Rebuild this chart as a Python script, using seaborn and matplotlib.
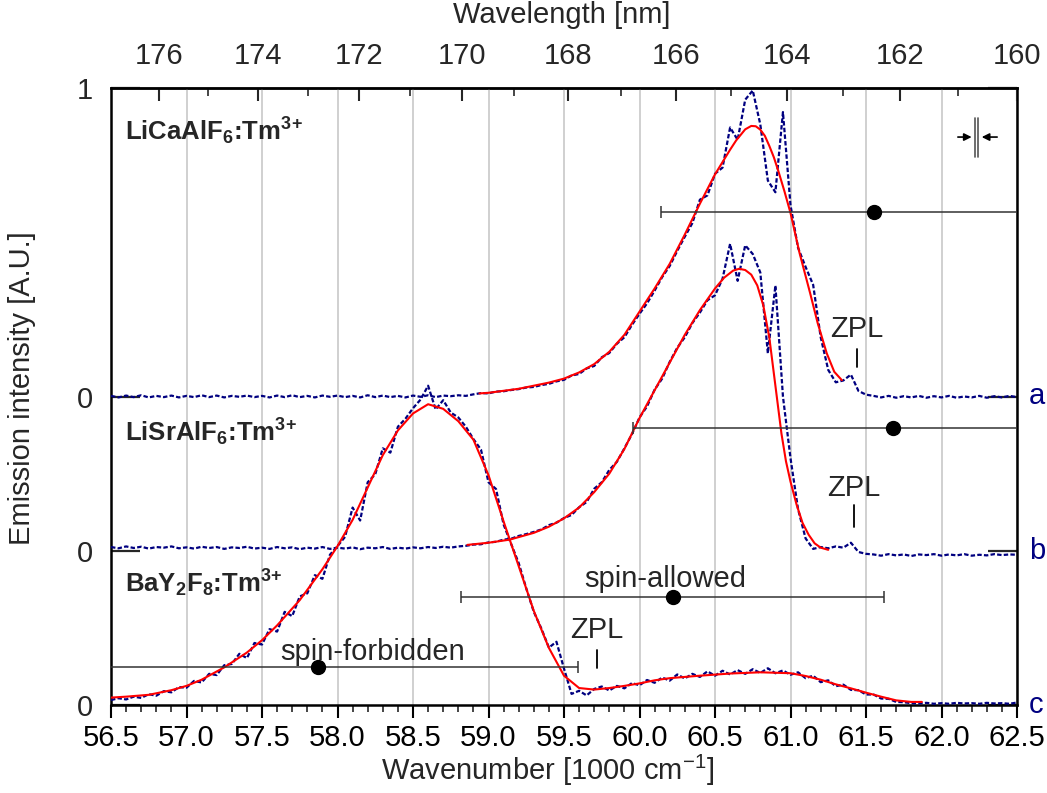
import numpy as np
import matplotlib
matplotlib.use("Agg")
import matplotlib.pyplot as plt
from matplotlib.ticker import MultipleLocator, FixedLocator
import seaborn as sns

# ---------------- data ----------------
# wavenumber grid of the measured spectra [1000 cm^-1]
wn = np.linspace(56.5, 62.5, 121)

# measured (blue, dashed) spectra, each normalised to its own baseline
meas_a = [0.002, -0.003, 0.003, -0.002, 0.004, -0.003, 0.002, -0.002, 0.003, -0.003,
          0.002, -0.002, 0.004, -0.002, 0.003, -0.003, 0.002, -0.001, 0.003, -0.002,
          0.002, -0.003, 0.003, -0.002, 0.004, -0.002, 0.002, -0.003, 0.003, -0.001,
          0.003, -0.002, 0.002, -0.003, 0.004, -0.002, 0.003, -0.002, 0.002, -0.003,
          0.003, -0.001, 0.004, -0.002, 0.003, 0.001, 0.004, 0.002, 0.007, 0.011,
          0.010, 0.016, 0.017, 0.021, 0.024, 0.029, 0.031, 0.037, 0.041, 0.049,
          0.054, 0.068, 0.073, 0.091, 0.099, 0.127, 0.141, 0.171, 0.192, 0.232,
          0.268, 0.302, 0.343, 0.387, 0.423, 0.472, 0.518, 0.562, 0.638, 0.652,
          0.722, 0.742, 0.872, 0.832, 0.962, 0.992, 0.882, 0.700, 0.662, 0.922,
          0.620, 0.482, 0.420, 0.362, 0.192, 0.086, 0.046, 0.052, 0.071, 0.018,
          0.006, 0.002, -0.003, 0.002, -0.004, 0.001, -0.003, 0.002, -0.004, 0.001,
          -0.003, 0.002, -0.004, 0.000, -0.003, 0.002, -0.004, 0.001, -0.003, 0.002,
          -0.002]
meas_b = [0.012, 0.008, 0.014, 0.009, 0.013, 0.007, 0.012, 0.010, 0.014, 0.008,
          0.011, 0.007, 0.013, 0.009, 0.012, 0.006, 0.011, 0.009, 0.013, 0.007,
          0.010, 0.006, 0.012, 0.008, 0.011, 0.005, 0.010, 0.007, 0.012, 0.006,
          0.010, 0.007, 0.011, 0.005, 0.010, 0.008, 0.012, 0.006, 0.010, 0.007,
          0.011, 0.008, 0.012, 0.009, 0.013, 0.010, 0.014, 0.016, 0.020, 0.021,
          0.027, 0.029, 0.036, 0.039, 0.048, 0.054, 0.061, 0.069, 0.083, 0.091,
          0.106, 0.116, 0.141, 0.158, 0.201, 0.222, 0.262, 0.288, 0.332, 0.378,
          0.432, 0.468, 0.522, 0.558, 0.612, 0.658, 0.692, 0.738, 0.772, 0.812,
          0.828, 0.882, 0.995, 0.875, 0.990, 0.962, 0.902, 0.640, 0.860, 0.500,
          0.300, 0.135, 0.040, 0.006, 0.012, 0.008, 0.014, 0.010, 0.026, -0.004,
          -0.010, -0.012, -0.016, -0.011, -0.015, -0.012, -0.017, -0.012, -0.014, -0.011,
          -0.016, -0.012, -0.015, -0.011, -0.016, -0.013, -0.015, -0.011, -0.014, -0.012,
          -0.013]
meas_c = [0.016, 0.022, 0.018, 0.027, 0.023, 0.035, 0.030, 0.045, 0.041, 0.058,
          0.056, 0.078, 0.073, 0.101, 0.097, 0.129, 0.133, 0.166, 0.152, 0.201,
          0.196, 0.246, 0.238, 0.302, 0.288, 0.352, 0.362, 0.421, 0.409, 0.487,
          0.515, 0.545, 0.640, 0.598, 0.722, 0.748, 0.832, 0.818, 0.902, 0.928,
          0.962, 0.990, 1.035, 0.958, 0.988, 0.948, 0.932, 0.902, 0.862, 0.828,
          0.722, 0.700, 0.585, 0.522, 0.460, 0.378, 0.302, 0.248, 0.186, 0.205,
          0.118, 0.036, 0.046, 0.031, 0.052, 0.060, 0.047, 0.062, 0.054, 0.071,
          0.064, 0.081, 0.072, 0.089, 0.079, 0.099, 0.086, 0.101, 0.091, 0.109,
          0.095, 0.111, 0.099, 0.113, 0.101, 0.116, 0.104, 0.119, 0.103, 0.112,
          0.098, 0.106, 0.087, 0.095, 0.074, 0.080, 0.061, 0.066, 0.049, 0.048,
          0.034, 0.034, 0.021, 0.020, 0.010, 0.009, 0.006, 0.005, 0.007, 0.004,
          0.006, 0.004, 0.007, 0.005, 0.006, 0.004, 0.007, 0.005, 0.006, 0.004,
          0.008]

# fitted (red) curves
fit_a_x = [58.94, 59.0, 59.2, 59.4, 59.5, 59.6, 59.7, 59.8, 59.9, 60.0, 60.1, 60.2,
           60.3, 60.4, 60.5, 60.6, 60.64, 60.7, 60.74, 60.77, 60.8, 60.83, 60.86,
           60.89, 60.92, 60.96, 61.0, 61.06, 61.13, 61.18, 61.24, 61.29, 61.34]
fit_a = [0.010, 0.012, 0.025, 0.045, 0.058, 0.078, 0.105, 0.145, 0.200, 0.275, 0.350,
         0.430, 0.525, 0.625, 0.720, 0.800, 0.830, 0.866, 0.877, 0.876, 0.865, 0.845,
         0.812, 0.775, 0.730, 0.665, 0.595, 0.465, 0.335, 0.238, 0.140, 0.080, 0.053]
fit_b_x = [58.86, 59.0, 59.14, 59.3, 59.4, 59.5, 59.6, 59.7, 59.8, 59.9, 60.0, 60.1,
           60.2, 60.3, 60.4, 60.5, 60.56, 60.62, 60.66, 60.7, 60.74, 60.78, 60.82,
           60.86, 60.9, 60.94, 60.97, 61.0, 61.04, 61.08, 61.12, 61.16, 61.2, 61.25]
fit_b = [0.019, 0.026, 0.036, 0.058, 0.078, 0.105, 0.140, 0.190, 0.250, 0.330, 0.430,
         0.520, 0.610, 0.700, 0.780, 0.850, 0.885, 0.908, 0.914, 0.910, 0.895, 0.860,
         0.795, 0.690, 0.535, 0.380, 0.290, 0.224, 0.150, 0.090, 0.052, 0.024, 0.010,
         0.003]
fit_c_x = [56.5, 56.6, 56.75, 56.9, 57.0, 57.1, 57.25, 57.4, 57.5, 57.6, 57.75, 57.9,
           58.0, 58.1, 58.2, 58.3, 58.4, 58.5, 58.6, 58.7, 58.8, 58.9, 59.0, 59.1,
           59.2, 59.3, 59.4, 59.5, 59.6, 59.7, 59.8, 59.9, 60.0, 60.1, 60.2, 60.4,
           60.6, 60.8, 61.0, 61.1, 61.2, 61.3, 61.4, 61.5, 61.6, 61.7, 61.8, 61.87]
fit_c = [0.024, 0.027, 0.033, 0.048, 0.062, 0.082, 0.122, 0.170, 0.210, 0.258, 0.340,
         0.440, 0.515, 0.600, 0.705, 0.810, 0.890, 0.945, 0.975, 0.960, 0.920, 0.860,
         0.745, 0.595, 0.450, 0.305, 0.185, 0.095, 0.055, 0.050, 0.055, 0.062, 0.070,
         0.080, 0.087, 0.095, 0.102, 0.106, 0.103, 0.094, 0.082, 0.067, 0.054, 0.040,
         0.027, 0.015, 0.010, 0.010]

# vertical offsets of the three spectra
offsets = {"a": 1.0, "b": 0.5, "c": 0.0}
compounds = {"a": r"LiCaAlF$_\mathbf{6}$:Tm$^{\mathbf{3\!+}}$",
             "b": r"LiSrAlF$_\mathbf{6}$:Tm$^{\mathbf{3\!+}}$",
             "c": r"BaY$_\mathbf{2}$F$_\mathbf{8}$:Tm$^{\mathbf{3\!+}}$"}

# barycentres with horizontal bars
bar_names = ["a", "b", "spin-allowed", "spin-forbidden"]
bar_centre = [61.553, 61.68, 60.22, 57.87]
bar_level = [1.598, 0.898, 0.350, 0.123]
bar_halfwidth = [1.41, 1.72, 1.40, 1.72]

# zero-phonon-line markers
zpl_pos = [61.44, 61.42, 59.72]
zpl_low = [1.096, 0.577, 0.120]
zpl_high = [1.154, 0.648, 0.178]

xticks = [56.5, 57.0, 57.5, 58.0, 58.5, 59.0, 59.5, 60.0, 60.5, 61.0, 61.5, 62.0, 62.5]
wl_ticks = [176, 174, 172, 170, 168, 166, 164, 162, 160]
wl_minor = [175, 173, 171, 169, 167, 165, 163, 161]

# ---------------- style ----------------
sns.set_theme(style="white")
plt.rcParams["font.family"] = ["Liberation Sans", "DejaVu Sans"]
plt.rcParams["mathtext.fontset"] = "custom"
plt.rcParams["mathtext.rm"] = "Liberation Sans"
plt.rcParams["mathtext.sf"] = "Liberation Sans"
plt.rcParams["mathtext.it"] = "Liberation Sans:italic"
plt.rcParams["mathtext.bf"] = "Liberation Sans:bold"

NAVY = "#000080"
FS = 21
FS_NAME = 18.5

fig = plt.figure(figsize=(10.47, 7.93), dpi=100)
ax = fig.add_axes([111 / 1047, (793 - 705) / 793, 906 / 1047, 617 / 793])

# grid
ax.set_axisbelow(True)
ax.grid(axis="x", which="major", color="#c8c8c8", lw=1.2)
ax.grid(axis="y", visible=False)

meas = {"a": meas_a, "b": meas_b, "c": meas_c}
fits = {"a": (fit_a_x, fit_a), "b": (fit_b_x, fit_b), "c": (fit_c_x, fit_c)}
for key in ["a", "b", "c"]:
    off = offsets[key]
    sns.lineplot(x=wn, y=np.asarray(meas[key]) + off, ax=ax, color=NAVY, lw=1.6,
                 estimator=None, sort=False, zorder=3)
    ax.lines[-1].set_dashes((2.0, 1.0))
for key in ["a", "b", "c"]:
    off = offsets[key]
    fx, fy = fits[key]
    sns.lineplot(x=fx, y=np.asarray(fy) + off, ax=ax, color="red", lw=1.5,
                 estimator=None, sort=False, zorder=4)

# barycentre bars
for c, lvl, hw in zip(bar_centre, bar_level, bar_halfwidth):
    ax.errorbar([c], [lvl], xerr=[hw], fmt="o", color="black", ms=10,
                ecolor="#333333", elinewidth=1.1, capsize=4.5, capthick=1.1, zorder=5)

ax.text(60.17, 0.382, "spin-allowed", ha="center", va="baseline", fontsize=FS)
ax.text(58.23, 0.145, "spin-forbidden", ha="center", va="baseline", fontsize=FS)

# ZPL markers
zpl_text_y = [1.193, 0.678, 0.217]
for x0, lo, hi, ty in zip(zpl_pos, zpl_low, zpl_high, zpl_text_y):
    ax.plot([x0, x0], [lo, hi], color="black", lw=1.3, zorder=5)
    ax.text(x0, ty, "ZPL", ha="center", va="baseline", fontsize=FS)

# compound names
name_y = {"a": 1.83, "b": 0.853, "c": 0.364}
for key in ["a", "b", "c"]:
    ax.text(56.59, name_y[key], compounds[key], fontsize=FS_NAME, fontweight="bold",
            va="baseline", ha="left")

# right-hand letters
for key in ["a", "b", "c"]:
    ax.text(1.013, offsets[key], key, transform=ax.get_yaxis_transform(),
            color=NAVY, fontsize=FS, va="center", ha="left", clip_on=False)

# resolution marker
ax.plot([62.222, 62.222], [1.776, 1.903], color="#555555", lw=1.2)
ax.plot([62.244, 62.244], [1.776, 1.903], color="#555555", lw=1.2)
ax.annotate("", xy=(62.218, 1.841), xytext=(62.09, 1.841),
            arrowprops=dict(arrowstyle="-|>", color="black", lw=1.2, mutation_scale=11))
ax.annotate("", xy=(62.248, 1.841), xytext=(62.387, 1.841),
            arrowprops=dict(arrowstyle="-|>", color="black", lw=1.2, mutation_scale=11))

# axes limits & ticks
ax.set_xlim(56.5, 62.5)
ax.set_ylim(0, 2.0)
ax.set_xticks(xticks)
ax.set_xticklabels([f"{v:.1f}" for v in xticks])
ax.xaxis.set_minor_locator(MultipleLocator(0.1))
ax.tick_params(axis="x", which="major", direction="out", length=9, width=1.5,
               labelsize=FS, pad=5, bottom=True, top=False, colors="black")
ax.tick_params(axis="x", which="minor", direction="out", length=5, width=1.2,
               bottom=True, top=False)
ax.set_yticks([0, 0.5, 1.0, 2.0])
ax.set_yticklabels(["0", "0", "0", "1"])
ax.tick_params(axis="y", which="major", direction="in", length=21, width=1.6,
               left=True, right=True, labelsize=FS, pad=13)
ax.set_xlabel("")
ax.set_ylabel("")
for s in ax.spines.values():
    s.set_visible(True)
    s.set_linewidth(1.8)
    s.set_color("black")

inv = lambda v: 1e4 / np.where(v == 0, 1e-9, v)
sec = ax.secondary_xaxis("top", functions=(inv, inv))
sec.set_xticks(wl_ticks)
sec.set_xticklabels([str(v) for v in wl_ticks])
sec.xaxis.set_minor_locator(FixedLocator(wl_minor))
sec.tick_params(axis="x", which="major", direction="in", length=9, width=1.5,
                labelsize=FS, pad=13)
sec.tick_params(axis="x", which="minor", direction="in", length=5.5, width=1.2)
sec.spines["top"].set_linewidth(1.8)

fig.text(548 / 1047, 1 - 770 / 793, r"Wavenumber [1000 cm$^{-1}$]", ha="center",
         va="center", fontsize=FS)
fig.text(562 / 1047, 1 - 15 / 793, "Wavelength [nm]", ha="center", va="center", fontsize=FS)
fig.text(22 / 1047, 1 - 388 / 793, "Emission intensity [A.U.]", rotation=90, ha="center",
         va="center", fontsize=FS)

fig.savefig("out.png", dpi=100)
